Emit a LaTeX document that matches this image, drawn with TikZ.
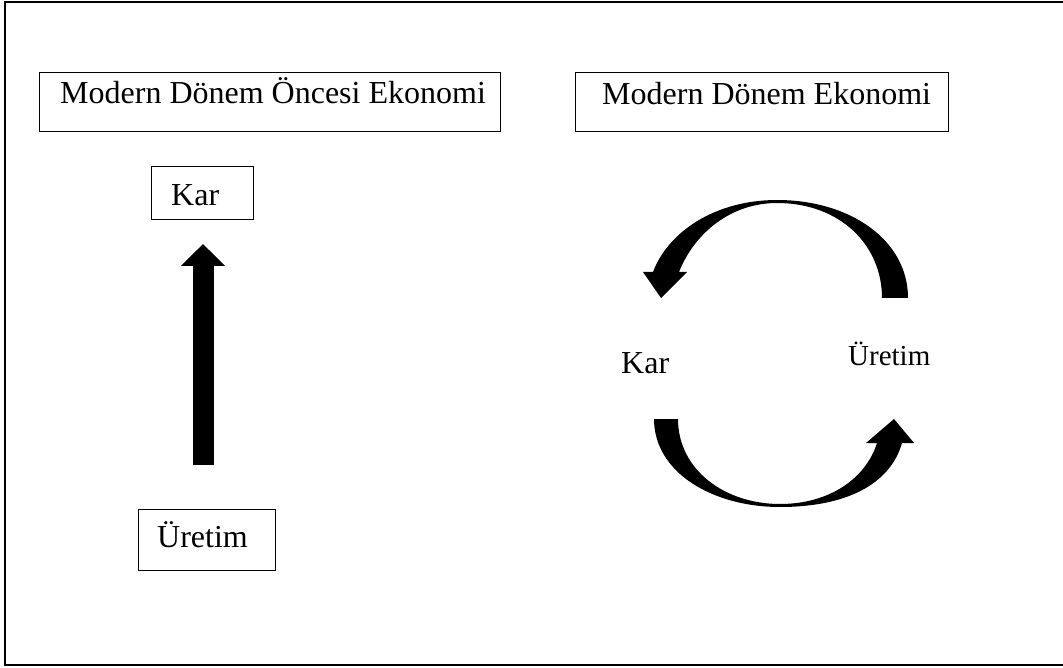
\documentclass[tikz,border=0pt]{standalone}
\usepackage{fontspec}
\setmainfont{Liberation Serif}
\usetikzlibrary{arrows.meta}
\begin{document}
\begin{tikzpicture}[x=1pt,y=-1pt,
  frame/.style={line width=2pt,draw=black},
  tbox/.style={draw=black,line width=1pt,inner sep=0pt,anchor=north west},
  txt/.style={inner sep=0pt,anchor=base west,font=\fontsize{32}{36}\selectfont},
  smalltxt/.style={inner sep=0pt,anchor=base west,font=\fontsize{29}{34}\selectfont},
  blob/.style={fill=black,draw=none}]
\useasboundingbox (0,0) rectangle (1063,668);
\draw[frame] (1070,2.5) -- (4.5,2.5) -- (4.5,664.5) -- (1070,664.5);

% boxes
\node[tbox,minimum width=461pt,minimum height=59pt] (b1) at (39,72) {};
\node[txt] (t1) at (60,104) {Modern Dönem Öncesi Ekonomi};
\node[tbox,minimum width=373pt,minimum height=59pt] (b2) at (575,72) {};
\node[txt] (t2) at (602,105) {Modern Dönem Ekonomi};
\node[tbox,minimum width=102pt,minimum height=53pt] (karbox) at (151,166) {};
\node[txt] (kar1) at (171,206) {Kar};
\node[tbox,minimum width=137pt,minimum height=61pt] (uretbox) at (138,509) {};
\node[txt] (uret1) at (157,547) {Üretim};

% straight arrow
\coordinate (a0) at (203,465);
\coordinate (a1) at (203,244);
\draw[line width=21pt,-{Triangle[length=22pt,width=43pt]}] (a0) -- (a1);

% right labels
\node[txt] (kar2) at (621,373) {Kar};
\node[smalltxt] (uret2) at (848,365) {Üretim};

% top curved arrow
\fill[blob] (908,298) .. controls (908,240) and (850,200) .. (777,200)
  .. controls (715,200) and (668,232) .. (653,272) -- (643,272) -- (661,298) -- (687,272) -- (679,272)
  .. controls (694,234) and (730,203) .. (777,203)
  .. controls (840,203) and (882,245) .. (882,298) -- cycle;

% bottom curved arrow
\fill[blob] (654,419) .. controls (654,472) and (712,507) .. (780,507)
  .. controls (845,507) and (890,485) .. (902,443) -- (914,443) -- (894,419) -- (866,443) -- (877,443)
  .. controls (866,478) and (830,504) .. (780,504)
  .. controls (725,504) and (678,470) .. (678,419) -- cycle;
\end{tikzpicture}
\end{document}
